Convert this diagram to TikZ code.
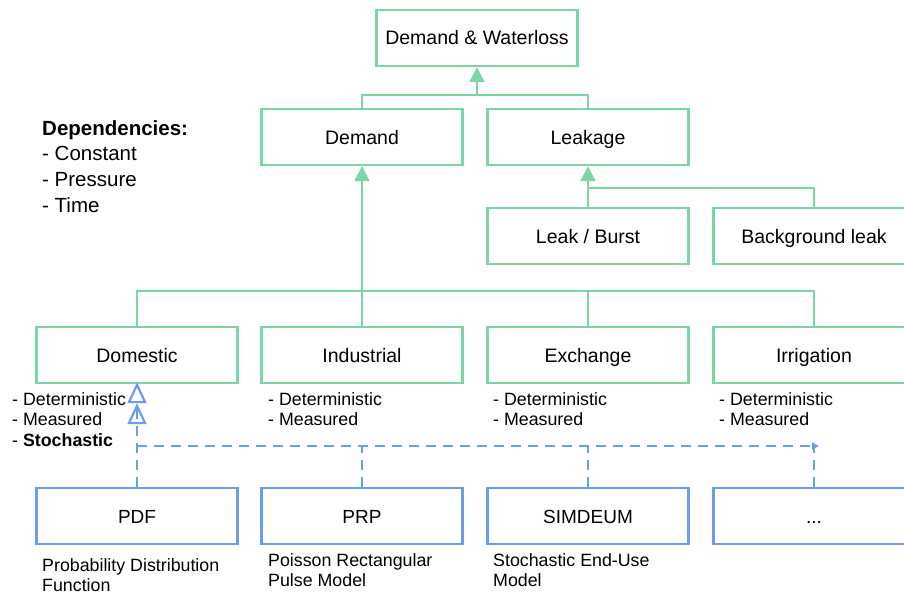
\documentclass[tikz,border=0pt]{standalone}
\usepackage{fontspec}
\setmainfont{Liberation Sans}
\usetikzlibrary{arrows.meta}
\definecolor{gline}{RGB}{122,214,162}
\definecolor{bline}{RGB}{108,156,238}
\begin{document}
\begin{tikzpicture}[x=1pt,y=-1pt,
  gbox/.style={draw=gline,line width=2.4pt,minimum width=201pt,minimum height=56pt,inner sep=0pt,text height=17pt,text depth=3pt,font=\fontsize{19.5}{22}\selectfont},
  bbox/.style={draw=bline,line width=2.4pt,minimum width=201pt,minimum height=56pt,inner sep=0pt,text height=17pt,text depth=3pt,font=\fontsize{19}{22}\selectfont},
  gcon/.style={draw=gline,line width=2.4pt},
  garrow/.style={gcon,-{Triangle[width=15pt,length=15pt]}},
  bdash/.style={draw=bline,line width=2.2pt,dash pattern=on 10pt off 7pt},
  lst/.style={anchor=north west,align=left,inner sep=0pt,font=\fontsize{17.8}{20.8}\selectfont},
  sub/.style={anchor=north west,align=left,inner sep=0pt,font=\fontsize{17.8}{20}\selectfont}]
\useasboundingbox (0,0) rectangle (904,594);
\clip (0,0) rectangle (904,594);
% green boxes
\node[gbox] (dw) at (477,38) {Demand \& Waterloss};
\node[gbox] (dem) at (362,137) {Demand};
\node[gbox] (leak) at (588,137) {Leakage};
\node[gbox] (lb) at (588,236) {Leak / Burst};
\node[gbox] (bg) at (814,236) {Background leak};
\node[gbox] (dom) at (137,355) {Domestic};
\node[gbox] (ind) at (362,355) {Industrial};
\node[gbox] (exc) at (588,355) {Exchange};
\node[gbox] (irr) at (814,355) {Irrigation};
% blue boxes
\node[bbox] (pdf) at (137,516) {PDF};
\node[bbox] (prp) at (362,516) {PRP};
\node[bbox] (sim) at (588,516) {SIMDEUM};
\node[bbox] (dots) at (814,516) {...};
% bus coordinates
\coordinate (bustop) at (477,95);
\coordinate (busleak) at (588,188);
\coordinate (busdem) at (362,291);
\coordinate (busblue) at (137,446);
\coordinate (bend) at (819,446);
% top connectors
\draw[gcon] (dem.north) -- (dem.north |- bustop) -- (leak.north |- bustop) -- (leak.north);
\draw[garrow] (bustop) -- (dw.south);
% leakage
\draw[gcon] (bg.north) -- (bg.north |- busleak) -- (busleak);
\draw[garrow] (lb.north) -- (leak.south);
% demand
\draw[gcon] (dom.north) -- (dom.north |- busdem) -- (irr.north |- busdem) -- (irr.north);
\draw[gcon] (exc.north) -- (exc.north |- busdem);
\draw[garrow] (ind.north) -- (dem.south);
% blue dashed
\draw[bdash,-{Triangle[open,width=19pt,length=21pt]Triangle[open,width=19pt,length=21pt]}] (pdf.north) -- ([yshift=2pt]dom.south);
\draw[bdash,-{Triangle[width=7pt,length=7pt]}] (busblue) -- (bend);
\draw[bdash] (prp.north) -- (prp.north |- busblue);
\draw[bdash] (sim.north) -- (sim.north |- busblue);
\draw[bdash] (dots.north) -- (dots.north |- busblue);
% dependencies
\node[anchor=north west,align=left,inner sep=0pt,font=\fontsize{20.5}{25.7}\selectfont] (dep) at (42,120) {\textbf{Dependencies:}\\- Constant\\- Pressure\\- Time};
% lists
\node[lst] (ldom) at (12,392) {- Deterministic\\- Measured\\- \textbf{Stochastic}};
\node[lst] (lind) at (268,392) {- Deterministic\\- Measured};
\node[lst] (lexc) at (493,392) {- Deterministic\\- Measured};
\node[lst] (lirr) at (719,392) {- Deterministic\\- Measured};
% model descriptions
\node[sub] (dpdf) at (42,558) {Probability Distribution\\Function};
\node[sub] (dprp) at (268,553) {Poisson Rectangular\\Pulse Model};
\node[sub] (dsim) at (493,553) {Stochastic End-Use\\Model};
\end{tikzpicture}
\end{document}
